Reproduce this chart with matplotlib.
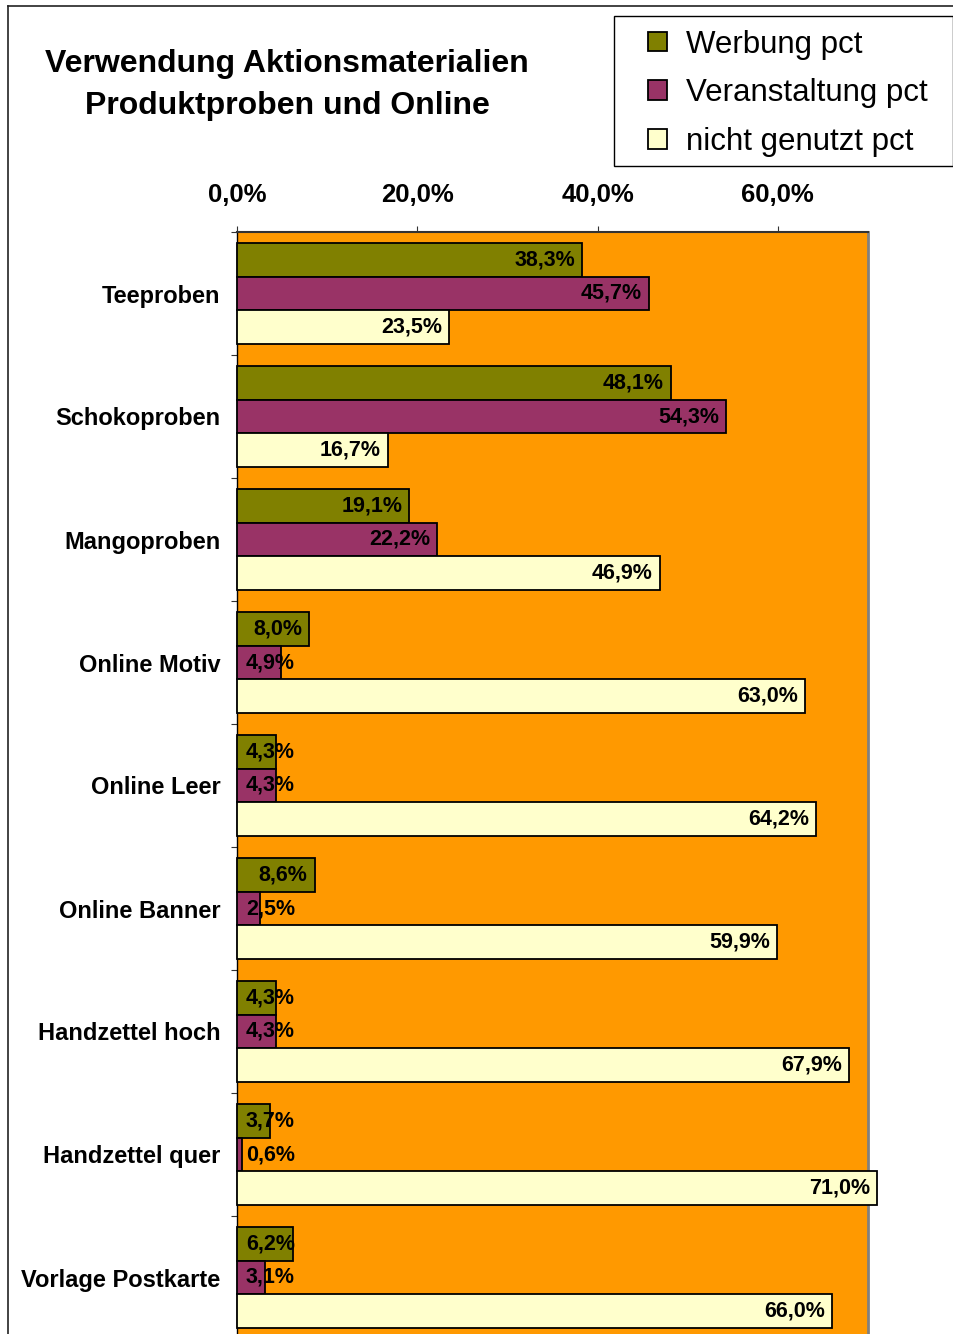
import numpy as np
import matplotlib.pyplot as plt
from matplotlib.patches import Patch, Rectangle
from matplotlib.lines import Line2D

# ---------- data ----------
categories = ['Teeproben', 'Schokoproben', 'Mangoproben', 'Online Motiv',
              'Online Leer', 'Online Banner', 'Handzettel hoch',
              'Handzettel quer', 'Vorlage Postkarte']
werbung = [38.3, 48.1, 19.1, 8.0, 4.3, 8.6, 4.3, 3.7, 6.2]
veranstaltung = [45.7, 54.3, 22.2, 4.9, 4.3, 2.5, 4.3, 0.6, 3.1]
nicht_genutzt = [23.5, 16.7, 46.9, 63.0, 64.2, 59.9, 67.9, 71.0, 66.0]
series_names = ['Werbung pct', 'Veranstaltung pct', 'nicht genutzt pct']
x_ticks = [0, 20, 40, 60]

colors = ['#808000', '#993366', '#FFFFCC']
plt.rcParams['font.family'] = ['Liberation Sans', 'DejaVu Sans']


def fmt(v):
    return f"{v:.1f}%".replace('.', ',')


W, H = 954, 1334
fig = plt.figure(figsize=(W / 100, H / 100), dpi=100)

# outer chart border (only left and top visible)
fig.add_artist(Line2D([8 / W, 8 / W], [0, 1 - 6 / H], color='#222222', lw=1.2))
fig.add_artist(Line2D([8 / W, 1], [1 - 6 / H, 1 - 6 / H], color='#222222', lw=1.2))

ax = fig.add_axes([237 / W, -5 / H, 631 / W, 1107 / H])
ax.set_facecolor('#FF9900')
ax.set_xlim(0, 70)
ax.set_ylim(8.5, -0.5)

y = np.arange(len(categories))
h = 0.276
for i, vals in enumerate([werbung, veranstaltung, nicht_genutzt]):
    yy = y + (i - 1) * h
    ax.barh(yy, vals, height=h, color=colors[i], edgecolor='black',
            linewidth=1.3, zorder=3, clip_on=False)
    for v, yv in zip(vals, yy):
        if v >= 7:
            ax.annotate(fmt(v), (v, yv), xytext=(-5, 0), textcoords='offset points',
                        ha='right', va='center', fontsize=15.5, fontweight='bold',
                        zorder=4, annotation_clip=False)
        else:
            ax.annotate(fmt(v), (0, yv), xytext=(6.5, 0), textcoords='offset points',
                        ha='left', va='center', fontsize=15.5, fontweight='bold',
                        zorder=4, annotation_clip=False)

# axes styling
ax.xaxis.tick_top()
ax.set_xticks(x_ticks)
ax.set_xticklabels([fmt(t) for t in x_ticks])
ax.tick_params(axis='x', direction='out', length=4.5, color='#333333', pad=13.5)
for tick in ax.xaxis.get_major_ticks():
    tick.label2.set_fontsize(18.5)
    tick.label2.set_fontweight('bold')

ax.tick_params(axis='y', which='major', direction='out', length=4, color='#333333')
ax.tick_params(axis='y', which='minor', length=0, pad=12, labelsize=17)
ax.set_yticks(np.arange(-0.5, 8.5, 1))
ax.set_yticklabels([])
ax.set_yticks(y, minor=True)
ax.set_yticklabels(categories, minor=True)
for lab in ax.get_yticklabels(minor=True):
    lab.set_fontweight('bold')

ax.spines['bottom'].set_visible(False)
ax.spines['left'].set_color('black')
ax.spines['left'].set_linewidth(1.0)
ax.spines['top'].set_color('#333333')
ax.spines['top'].set_linewidth(1.5)
ax.spines['right'].set_color('#808080')
ax.spines['right'].set_linewidth(2)

# title
fig.text(287 / W, 1 - 85 / H, 'Verwendung Aktionsmaterialien\nProduktproben und Online',
         ha='center', va='center', fontsize=23, fontweight='bold', linespacing=1.5)

# legend box + legend
fig.add_artist(Rectangle((614 / W, 1 - 166 / H), 339 / W, 150 / H,
                         transform=fig.transFigure, facecolor='white',
                         edgecolor='black', lw=1.0))
handles = [Patch(facecolor=c, edgecolor='black', linewidth=1.3) for c in colors]
leg = fig.legend(handles, series_names, loc='upper left',
                 bbox_to_anchor=(636 / W, 1 - 17 / H), frameon=False,
                 fontsize=22.5, handlelength=0.6, handleheight=0.6,
                 handletextpad=0.6, labelspacing=0.6, borderaxespad=0)

fig.savefig('out.png', dpi=100)
